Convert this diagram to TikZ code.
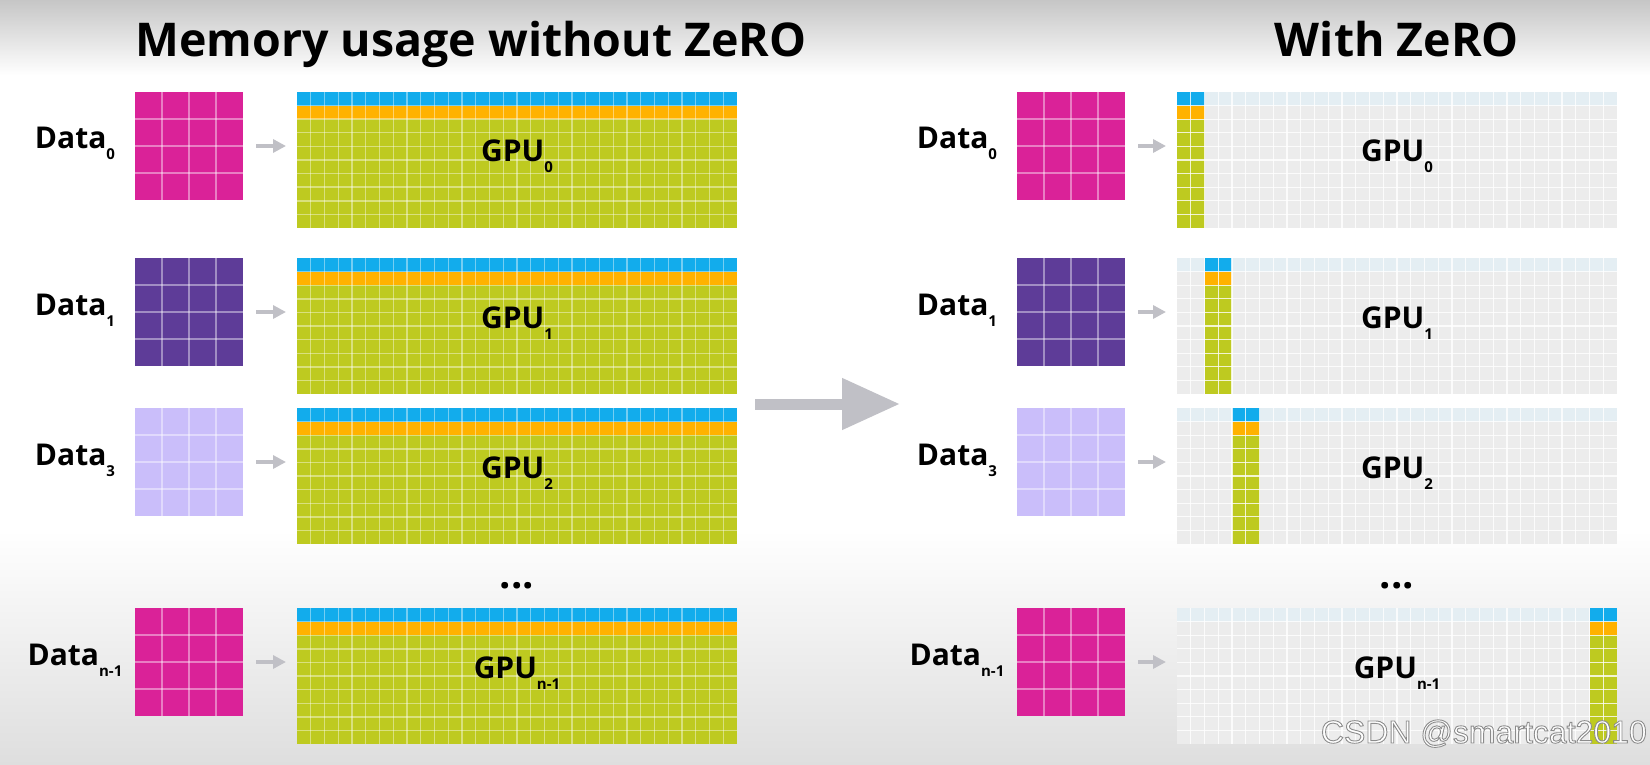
\documentclass[tikz,border=0pt]{standalone}
\usepackage{fontspec}
\setmainfont{Open Sans}
\newfontfamily\wmfont{Liberation Sans}
\usetikzlibrary{arrows.meta}
\definecolor{dataPink}{RGB}{218,34,152}
\definecolor{dataPurple}{RGB}{94,60,152}
\definecolor{dataLilac}{RGB}{202,190,250}
\definecolor{memBlue}{RGB}{18,172,236}
\definecolor{memOrange}{RGB}{255,178,0}
\definecolor{memGreen}{RGB}{190,202,32}
\definecolor{memGray}{RGB}{236,236,236}
\definecolor{memTint}{RGB}{228,238,243}
\definecolor{arrowGray}{RGB}{192,192,198}
\definecolor{bgTop}{RGB}{198,198,198}
\definecolor{bgBottom}{RGB}{222,222,222}
\newcommand{\subidx}[1]{\raisebox{-11pt}{\fontsize{15}{15}\selectfont #1}}

\begin{document}
\begin{tikzpicture}[x=1pt,y=-1pt,headtext/.style={font=\fontsize{46.5}{54}\selectfont\bfseries, anchor=base, inner sep=0pt},datatext/.style={font=\fontsize{30}{36}\selectfont\bfseries, anchor=base, inner sep=0pt},gputext/.style={font=\fontsize{30}{36}\selectfont\bfseries, anchor=base, inner sep=0pt},databox/.style={anchor=north west, minimum width=108pt, minimum height=108pt, inner sep=0pt, outer sep=0pt},gpubox/.style={anchor=north west, minimum width=440pt, minimum height=136pt, inner sep=0pt, outer sep=0pt},cellline/.style={white, line width=1.4pt, opacity=0.42},grayline/.style={white, line width=1.1pt, opacity=0.8},smallarrow/.style={-{Triangle[length=13pt,width=13pt]}, line width=4pt, arrowGray, shorten <=13pt, shorten >=11pt},bigarrow/.style={-{Triangle[length=58pt,width=49pt]}, line width=11pt, arrowGray},dotstext/.style={font=\fontsize{40}{40}\selectfont\bfseries, anchor=base, inner sep=0pt},watermark/.style={font=\wmfont\fontsize{32}{32}\selectfont, anchor=base east, inner sep=0pt, text=white}]
\useasboundingbox (0,0) rectangle (1650,765);
% background
\shade[top color=bgTop, bottom color=white] (0,0) rectangle (1650,75);
\fill[white] (0,75) rectangle (1650,530);
\shade[top color=white, bottom color=bgBottom] (0,530) rectangle (1650,765);
% titles
\node[headtext] (ttlL) at (471,57) {Memory usage without ZeRO};
\node[headtext] (ttlR) at (1397,57) {With ZeRO};
% without ZeRO
\foreach \r/\y/\col/\s/\g in {0/92/dataPink/0/0, 1/258/dataPurple/1/1, 2/408/dataLilac/3/2, 3/608/dataPink/n-1/n-1}{
  \node[databox, fill=\col] (ldb\r) at (135,\y) {};
  \foreach \i in {1,2,3} {\draw[cellline] (135+27*\i,\y) -- ++(0,108); \draw[cellline] (135,\y+27*\i) -- ++(108,0);}
  \node[gpubox, fill=memGreen] (lgb\r) at (297,\y) {};
  \fill[memBlue] (297,\y) rectangle ++(440,13.6);
  \fill[memOrange] (297,\y+13.6) rectangle ++(440,13.6);
  \foreach \i in {1,...,31} \draw[cellline] (297+13.75*\i,\y) -- ++(0,136);
  \foreach \j in {1,...,9} \draw[cellline] (297,\y+13.6*\j) -- ++(440,0);
  \node[datatext] (ldt\r) at (75,\y+57) {Data\subidx{\s}};
  \node[gputext] (lgt\r) at (517,\y+70) {GPU\subidx{\g}};
  \draw[smallarrow] (ldb\r.east) -- (ldb\r.east -| lgb\r.west);
}
\node[dotstext] (ldots) at (517,588) {...};
% with ZeRO
\foreach \r/\y/\col/\s/\g/\k in {0/92/dataPink/0/0/0, 1/258/dataPurple/1/1/2, 2/408/dataLilac/3/2/4, 3/608/dataPink/n-1/n-1/30}{
  \node[databox, fill=\col] (rdb\r) at (1017,\y) {};
  \foreach \i in {1,2,3} {\draw[cellline] (1017+27*\i,\y) -- ++(0,108); \draw[cellline] (1017,\y+27*\i) -- ++(108,0);}
  \node[gpubox, fill=memGray] (rgb\r) at (1177,\y) {};
  \fill[memTint] (1177,\y) rectangle ++(440,13.6);
  \fill[memGreen] (1177+13.75*\k,\y) rectangle ++(27.5,136);
  \fill[memBlue] (1177+13.75*\k,\y) rectangle ++(27.5,13.6);
  \fill[memOrange] (1177+13.75*\k,\y+13.6) rectangle ++(27.5,13.6);
  \foreach \i in {1,...,31} \draw[grayline] (1177+13.75*\i,\y) -- ++(0,136);
  \foreach \j in {1,...,9} \draw[grayline] (1177,\y+13.6*\j) -- ++(440,0);
  \node[datatext] (rdt\r) at (957,\y+57) {Data\subidx{\s}};
  \node[gputext] (rgt\r) at (1397,\y+70) {GPU\subidx{\g}};
  \draw[smallarrow] (rdb\r.east) -- (rdb\r.east -| rgb\r.west);
}
\node[dotstext] (rdots) at (1397,588) {...};
% big arrow
\coordinate (bigS) at (755,404); \coordinate (bigE) at (900,404);
\draw[bigarrow] (bigS) -- (bigE);
\node[watermark] (wm) at (1647,743) {\special{pdf:literal direct q 2 Tr 0.55 G 0.9 w}CSDN @smartcat2010\special{pdf:literal direct 0 Tr Q}};
\end{tikzpicture}
\end{document}
